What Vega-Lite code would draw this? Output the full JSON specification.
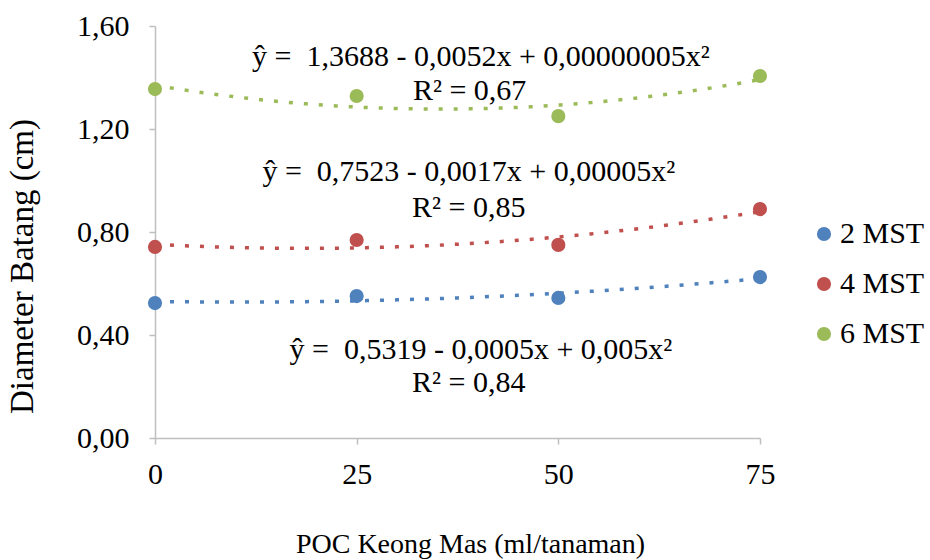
{
  "$schema": "https://vega.github.io/schema/vega-lite/v6.json",
  "autosize": "none",
  "padding": {"left": 155, "top": 26, "right": 170, "bottom": 122},
  "width": 605,
  "height": 412,
  "background": "white",
  "config": {
    "view": {"stroke": null},
    "font": "Liberation Serif",
    "axis": {"grid": false, "domainColor": "#BFBFBF", "tickColor": "#BFBFBF", "domainWidth": 1.5, "tickWidth": 1.5, "tickSize": 6, "labelFont": "Liberation Serif", "labelFontSize": 30, "labelColor": "#000000", "labelFlush": false, "titleFont": "Liberation Serif", "titleFontSize": 28, "titleFontWeight": "normal", "titleColor": "#000000"},
    "legend": {"labelFont": "Liberation Serif", "labelFontSize": 30, "labelColor": "#000000"}
  },
  "resolve": {"legend": {"color": "independent"}},
  "datasets": {
    "points": [
      {"poc": 0, "diameter": 0.524, "series": "2 MST"},
      {"poc": 25, "diameter": 0.551, "series": "2 MST"},
      {"poc": 50, "diameter": 0.544, "series": "2 MST"},
      {"poc": 75, "diameter": 0.625, "series": "2 MST"},
      {"poc": 0, "diameter": 0.742, "series": "4 MST"},
      {"poc": 25, "diameter": 0.769, "series": "4 MST"},
      {"poc": 50, "diameter": 0.750, "series": "4 MST"},
      {"poc": 75, "diameter": 0.889, "series": "4 MST"},
      {"poc": 0, "diameter": 1.355, "series": "6 MST"},
      {"poc": 25, "diameter": 1.328, "series": "6 MST"},
      {"poc": 50, "diameter": 1.250, "series": "6 MST"},
      {"poc": 75, "diameter": 1.406, "series": "6 MST"}
    ],
    "one": [{}]
  },
  "layer": [
    {
      "data": {"name": "points"},
      "transform": [{"regression": "diameter", "on": "poc", "groupby": ["series"], "method": "poly", "order": 2, "extent": [0, 75]}],
      "mark": {"type": "line", "strokeDash": [4, 11], "strokeWidth": 3.5, "strokeCap": "butt"},
      "encoding": {
        "x": {"field": "poc", "type": "quantitative"},
        "y": {"field": "diameter", "type": "quantitative"},
        "color": {"field": "series", "type": "nominal", "legend": null, "scale": {"domain": ["2 MST", "4 MST", "6 MST"], "range": ["#4F81BD", "#C0504D", "#9BBB59"]}},
        "detail": {"field": "series"}
      }
    },
    {
      "data": {"name": "points"},
      "mark": {"type": "point", "filled": true, "shape": "circle", "size": 200, "opacity": 1},
      "encoding": {
        "x": {"field": "poc", "type": "quantitative", "scale": {"domain": [0, 75], "nice": false, "zero": false}, "axis": {"values": [0, 25, 50, 75], "title": "POC Keong Mas (ml/tanaman)", "labelPadding": 15, "titlePadding": 41, "titleX": 315}},
        "y": {"field": "diameter", "type": "quantitative", "scale": {"domain": [0, 1.6], "nice": false}, "axis": {"values": [0, 0.4, 0.8, 1.2, 1.6], "labelExpr": "replace(format(datum.value, '.2f'), '.', ',')", "title": "Diameter Batang (cm)", "titleFontSize": 33, "labelPadding": 20, "titlePadding": 37, "titleY": 240}},
        "color": {"field": "series", "type": "nominal", "scale": {"domain": ["2 MST", "4 MST", "6 MST"], "range": ["#4F81BD", "#C0504D", "#9BBB59"]}, "legend": {"title": null, "orient": "none", "legendX": 654, "legendY": 193, "symbolType": "circle", "symbolSize": 200, "symbolStrokeWidth": 0, "rowPadding": 20, "labelOffset": 1, "padding": 0}}
      }
    },
    {"data": {"name": "one"}, "mark": {"type": "text", "text": "ŷ = \u00a01,3688 - 0,0052x + 0,00000005x²", "font": "Liberation Serif", "fontSize": 30, "align": "center", "baseline": "middle"}, "encoding": {"x": {"datum": 40.4}, "y": {"datum": 1.48}}},
    {"data": {"name": "one"}, "mark": {"type": "text", "text": "R² = 0,67", "font": "Liberation Serif", "fontSize": 30, "align": "center", "baseline": "middle"}, "encoding": {"x": {"datum": 39.0}, "y": {"datum": 1.348}}},
    {"data": {"name": "one"}, "mark": {"type": "text", "text": "ŷ = \u00a00,7523 - 0,0017x + 0,00005x²", "font": "Liberation Serif", "fontSize": 30, "align": "center", "baseline": "middle"}, "encoding": {"x": {"datum": 38.9}, "y": {"datum": 1.033}}},
    {"data": {"name": "one"}, "mark": {"type": "text", "text": "R² = 0,85", "font": "Liberation Serif", "fontSize": 30, "align": "center", "baseline": "middle"}, "encoding": {"x": {"datum": 38.9}, "y": {"datum": 0.893}}},
    {"data": {"name": "one"}, "mark": {"type": "text", "text": "ŷ = \u00a00,5319 - 0,0005x + 0,005x²", "font": "Liberation Serif", "fontSize": 30, "align": "center", "baseline": "middle"}, "encoding": {"x": {"datum": 40.4}, "y": {"datum": 0.342}}},
    {"data": {"name": "one"}, "mark": {"type": "text", "text": "R² = 0,84", "font": "Liberation Serif", "fontSize": 30, "align": "center", "baseline": "middle"}, "encoding": {"x": {"datum": 38.9}, "y": {"datum": 0.214}}}
  ]
}
